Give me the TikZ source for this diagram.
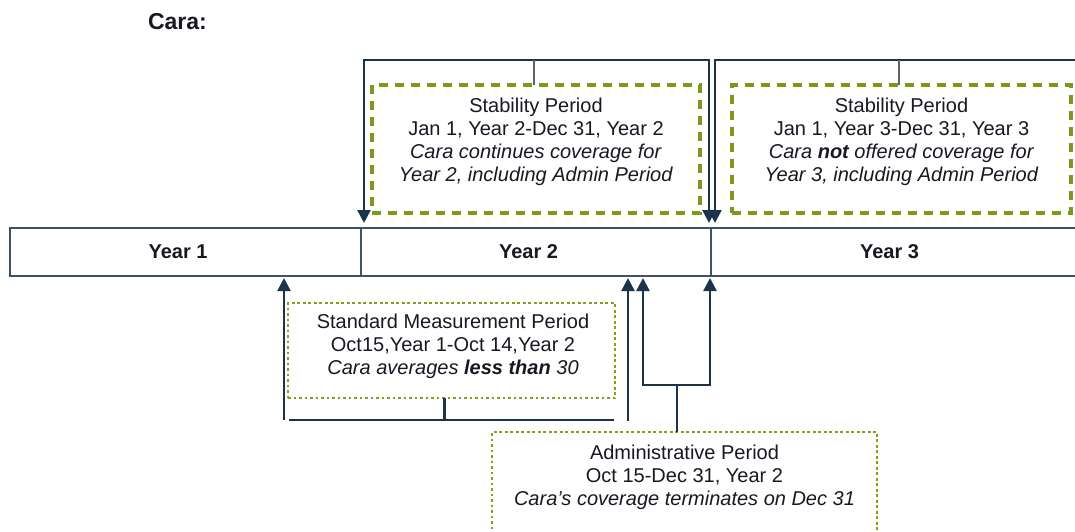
\documentclass[tikz,border=0pt]{standalone}
\usepackage{fontspec}
\setmainfont{Liberation Sans}
\usetikzlibrary{arrows.meta,positioning}

\definecolor{navy}{RGB}{28,52,75}
\definecolor{slate}{RGB}{60,82,102}
\definecolor{olive}{RGB}{122,154,28}
\definecolor{leaf}{RGB}{130,162,22}
\definecolor{ink}{RGB}{22,24,34}
\definecolor{stemgray}{RGB}{95,98,102}

\tikzset{
	yearcell/.style={draw=slate, line width=1.8pt, outer sep=0pt, inner sep=0pt, minimum height=48pt, text=ink, font=\fontsize{20}{23}\selectfont\bfseries, execute at end node={\hspace{15pt}}},
	stabbox/.style={draw=olive, line width=3.2pt, dash pattern=on 9pt off 7pt, outer sep=0pt, minimum height=128pt},
	periodbox/.style={draw=leaf, line width=2.6pt, dash pattern=on 2.6pt off 2.9pt, outer sep=0pt},
	boxtext/.style={align=center, text=ink, font=\fontsize{20}{23}\selectfont},
	brk/.style={draw=navy, line width=2.4pt},
	arr/.style={-{Triangle[width=13pt,length=13pt]}},
	arrs/.style={{Triangle[width=13pt,length=13pt]}-{Triangle[width=13pt,length=13pt]}},
	stem/.style={draw=stemgray, line width=1.8pt},
}

\begin{document}
\begin{tikzpicture}[x=1pt,y=-1pt]
	\useasboundingbox (0,0) rectangle (1075,531);

	% Title
	\node[text=ink, font=\fontsize{23}{26}\selectfont\bfseries] (title) at (177.5,22) {Cara:};

	% Time line with the three years
	\node[yearcell, minimum width=351pt] (year1) at (185.5,252) {Year 1};
	\node[yearcell, minimum width=350pt, right=0pt of year1] (year2) {Year 2};
	\node[yearcell, minimum width=372pt, right=0pt of year2] (year3) {Year 3};

	% Stability periods above the line
	\node[stabbox, minimum width=328pt] (stab2) at (536,149) {};
	\node[boxtext] (stab2txt) at ([yshift=7pt]stab2.center) {Stability Period\\Jan 1, Year 2-Dec 31, Year 2\\\textit{Cara continues coverage for}\\\textit{Year 2, including Admin Period}};
	\node[stabbox, minimum width=339pt] (stab3) at (901.5,149) {};
	\node[boxtext] (stab3txt) at ([yshift=7pt]stab3.center) {Stability Period\\Jan 1, Year 3-Dec 31, Year 3\\\textit{Cara \textbf{not} offered coverage for}\\\textit{Year 3, including Admin Period}};

	% Measurement and admin periods below the line
	\node[periodbox, minimum width=327pt, minimum height=95pt] (smp) at (451.5,350.5) {};
	\node[boxtext] (smptxt) at ([xshift=1.5pt,yshift=4.5pt]smp.center) {Standard Measurement Period\\Oct15,Year 1-Oct 14,Year 2\\\textit{Cara averages \textbf{less than} 30}};
	\node[periodbox, minimum width=385pt, minimum height=120pt] (admin) at (684.5,492) {};
	\node[boxtext] (admintxt) at ([yshift=-45pt]admin.north) {Administrative Period\\Oct 15-Dec 31, Year 2\\\textit{Cara’s coverage terminates on Dec 31}};

	% Brackets from the stability periods down to the line
	\draw[brk,arrs] ([xshift=3pt,yshift=5pt]year2.north west) -- ++(0,-163) -| ([xshift=-2pt,yshift=5pt]year2.north east);
	\draw[brk,arrs] ([xshift=4pt,yshift=5pt]year3.north west) -- ++(0,-163) -| ([xshift=4pt,yshift=5pt]year3.north east);
	\draw[stem] ([xshift=-2pt]stab2.north) -- ++(0,-25);
	\draw[stem] ([xshift=-2.5pt]stab3.north) -- ++(0,-25);

	% Standard measurement period bracket
	\draw[brk,arr] ([xshift=-4pt,yshift=-22pt]smp.south west) -- ++(0,-142);
	\draw[brk] ([xshift=1pt,yshift=-22pt]smp.south west) -- ([xshift=-1pt,yshift=-22pt]smp.south east);
	\draw[brk] ([xshift=-7pt]smp.south) -- ++(0,22);
	\draw[brk,arr] ([xshift=13pt,yshift=-23pt]smp.south east) -- ++(0,-143);

	% Administrative period bracket
	\draw[brk,arrs] ([xshift=-68pt,yshift=-2pt]year2.south east) |- ([xshift=-7.5pt,yshift=47pt]admin.north) -| ([xshift=-1pt,yshift=-2pt]year2.south east);
	\draw[brk] ([xshift=-7.5pt]admin.north) -- ++(0,-47);
\end{tikzpicture}
\end{document}
